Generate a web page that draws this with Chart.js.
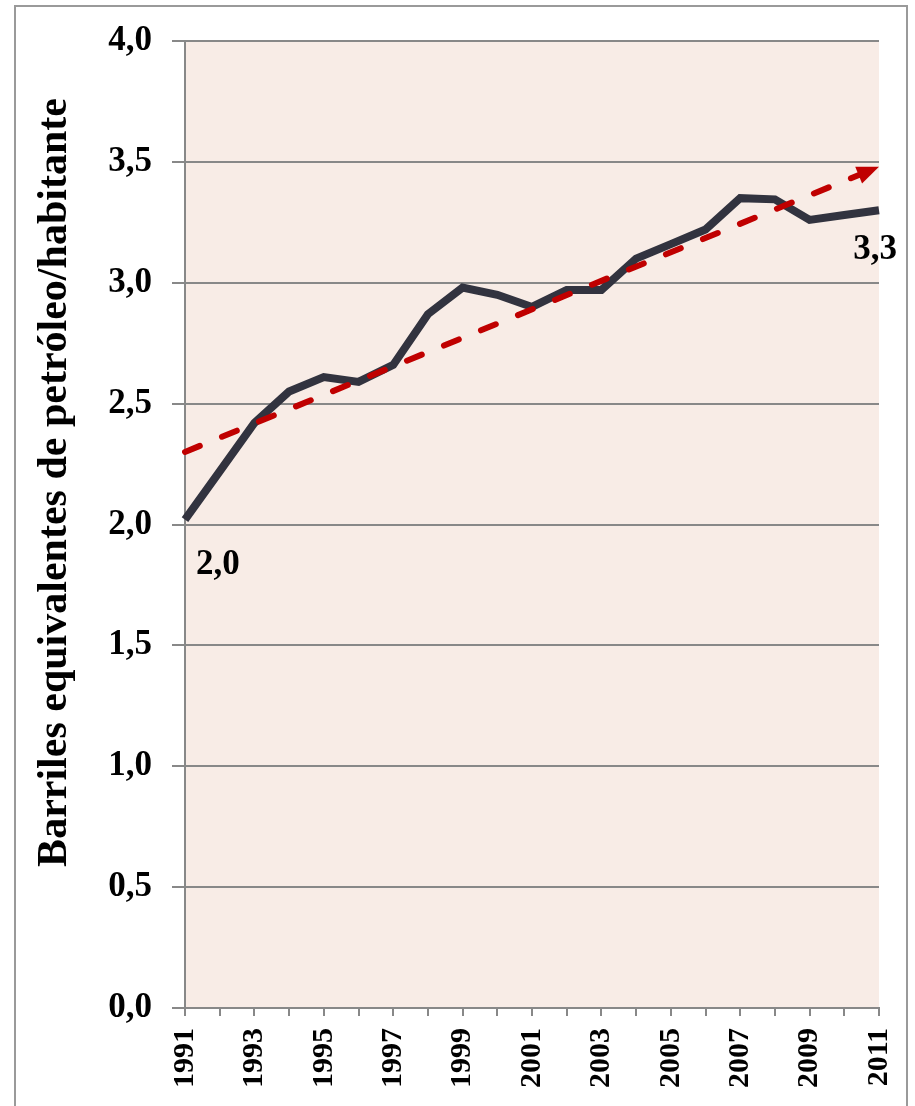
<!DOCTYPE html>
<html>
<head>
<meta charset="utf-8">
<script src="https://cdn.jsdelivr.net/npm/chart.js@4"></script>
<style>
  html, body { margin: 0; padding: 0; background: #fff; }
  #wrap { width: 915px; height: 1106px; }
</style>
</head>
<body>
<div id="wrap"><canvas id="c" width="915" height="1106"></canvas></div>
<script>
// Consumo de energía por habitante (barriles equivalentes de petróleo)
const years = ['1991','1992','1993','1994','1995','1996','1997','1998','1999','2000',
  '2001','2002','2003','2004','2005','2006','2007','2008','2009','2010','2011'];
const consumo = [2.02, 2.22, 2.42, 2.55, 2.61, 2.59, 2.66, 2.87, 2.98, 2.95,
  2.90, 2.97, 2.97, 3.10, 3.16, 3.22, 3.35, 3.345, 3.26, 3.28, 3.30];
// tendencia: only the two ends, the line spans between them
const tendencia = [2.30, null, null, null, null, null, null, null, null, null,
  null, null, null, null, null, null, null, null, null, null, 3.48];
const pointLabels = ['2,0', '3,3'];
const yTitle = 'Barriles equivalentes de petróleo/habitante';

const FONT = "'Liberation Serif', 'Times New Roman', serif";
const fmt = v => v.toFixed(1).replace('.', ',');

// background of the plot + outer frame
const frame = {
  id: 'frame',
  beforeDraw(chart) {
    const { ctx, chartArea: a } = chart;
    ctx.save();
    ctx.fillStyle = '#F8ECE6';
    ctx.fillRect(a.left, a.top, a.right - a.left, a.bottom - a.top);
    ctx.strokeStyle = '#9a9a9a';
    ctx.lineWidth = 2;
    ctx.strokeRect(15, 6, 892, 1120);
    ctx.restore();
  }
};

// arrow head on trend line, end labels and y title
const extras = {
  id: 'extras',
  afterDatasetsDraw(chart) {
    const { ctx, chartArea: a } = chart;
    const tr = chart.getDatasetMeta(0).data;
    const p0 = tr[0], p1 = tr[tr.length - 1];
    const ang = Math.atan2(p1.y - p0.y, p1.x - p0.x);
    const L = 22, W = 9;
    ctx.save();
    ctx.fillStyle = '#C00000';
    ctx.translate(p1.x, p1.y);
    ctx.rotate(ang);
    ctx.beginPath();
    ctx.moveTo(0, 0);
    ctx.lineTo(-L, -W);
    ctx.lineTo(-L, W);
    ctx.closePath();
    ctx.fill();
    ctx.restore();

    const pts = chart.getDatasetMeta(1).data;
    const first = pts[0], last = pts[pts.length - 1];
    ctx.save();
    ctx.fillStyle = '#000';
    ctx.font = 'bold 35px ' + FONT;
    ctx.textBaseline = 'alphabetic';
    ctx.textAlign = 'left';
    ctx.fillText(pointLabels[0], first.x + 11, first.y + 54);
    ctx.textAlign = 'right';
    ctx.fillText(pointLabels[1], last.x + 18, last.y + 49);
    ctx.restore();

    ctx.save();
    ctx.fillStyle = '#000';
    ctx.font = 'bold 42px ' + FONT;
    ctx.translate(66, (a.top + a.bottom) / 2 - 42);
    ctx.rotate(-Math.PI / 2);
    ctx.textAlign = 'center';
    ctx.textBaseline = 'alphabetic';
    ctx.fillText(yTitle, 0, 0);
    ctx.restore();
  }
};

new Chart(document.getElementById('c'), {
  type: 'line',
  data: {
    labels: years,
    datasets: [
      {
        label: 'Tendencia',
        data: tendencia,
        borderColor: '#C00000',
        borderWidth: 6,
        borderDash: [16, 24],
        borderCapStyle: 'round',
        spanGaps: true,
        pointRadius: 0,
        fill: false,
        order: 0,
      },
      {
        label: 'Consumo',
        data: consumo,
        borderColor: '#32333F',
        borderWidth: 8,
        tension: 0,
        pointRadius: 0,
        fill: false,
        order: 1,
      }
    ]
  },
  options: {
    responsive: false,
    animation: false,
    layout: { padding: { top: 40, right: 36, left: 0, bottom: 0 } },
    plugins: { legend: { display: false }, tooltip: { enabled: false } },
    scales: {
      x: {
        offset: false,
        grid: { display: true, drawOnChartArea: false, offset: false, color: '#888', lineWidth: 2, tickLength: 8 },
        border: { color: '#888', width: 2 },
        ticks: {
          autoSkip: false, maxRotation: 90, minRotation: 90, padding: 12,
          color: '#000', font: { family: FONT, size: 30, weight: 'bold' },
          callback: (v, i) => (i % 2 === 0 ? years[i] : ''),
        },
        afterFit(s) { s.height = 98; s.paddingLeft = 0; s.paddingRight = 0; },
      },
      y: {
        min: 0, max: 4,
        grid: { color: '#888', lineWidth: 2, tickLength: 13 },
        border: { color: '#888', width: 2 },
        ticks: {
          stepSize: 0.5, padding: 20, color: '#000',
          font: { family: FONT, size: 35, weight: 'bold' },
          callback: v => fmt(v),
        },
        afterFit(s) { s.width = 185; },
      }
    }
  },
  plugins: [frame, extras]
});
</script>
</body>
</html>
